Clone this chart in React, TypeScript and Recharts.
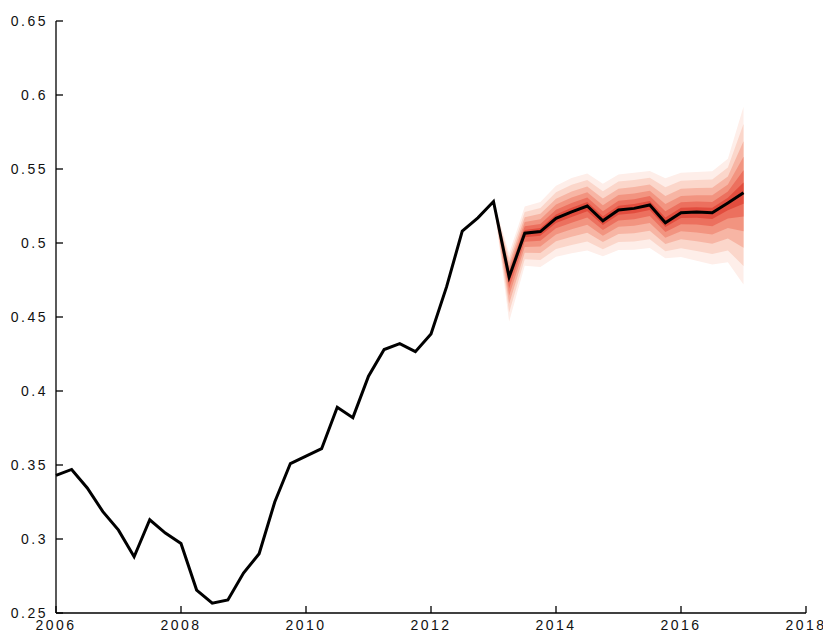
import { ComposedChart, Line, Area, XAxis, YAxis } from 'recharts';

// Quarterly observations, first quarter of 2006 through first quarter of 2013
const historyStart = 2006;
const historyValues = [
  0.343, 0.347, 0.3345, 0.3185, 0.306, 0.288, 0.313, 0.304,
  0.297, 0.2655, 0.2566, 0.2588, 0.277, 0.29, 0.325, 0.351,
  0.356, 0.361, 0.389, 0.382, 0.41, 0.428, 0.432, 0.4266,
  0.4385, 0.4705, 0.508, 0.517, 0.528,
];

// Projected median, 2013 Q2 through 2017 Q1
const forecastMedian = [
  0.477, 0.5066, 0.5077, 0.5167, 0.521, 0.525, 0.515, 0.5223,
  0.5234, 0.5257, 0.5137, 0.5205, 0.521, 0.5205, 0.527, 0.534,
];

// Outer fan offsets above / below the median, from the last observation on
const spreadUp = [
  0, 0.016, 0.018, 0.02, 0.022, 0.023, 0.022, 0.025, 0.024,
  0.024, 0.023, 0.03, 0.027, 0.027, 0.028, 0.03, 0.058,
];
const spreadDown = [
  0, 0.03, 0.022, 0.024, 0.026, 0.028, 0.03, 0.024, 0.027,
  0.028, 0.029, 0.024, 0.03, 0.033, 0.035, 0.04, 0.062,
];

// Fan bands, outermost first
const bandShares = [1, 0.8, 0.6, 0.42, 0.26, 0.12];
const bandColors = ['#feeee9', '#fbd6ca', '#f7b5a4', '#f29480', '#ec705e', '#e24d3e'];

const xTicks = [2006, 2008, 2010, 2012, 2014, 2016, 2018];
const yTicks = [0.25, 0.3, 0.35, 0.4, 0.45, 0.5, 0.55, 0.6, 0.65];

type Row = { t: number; value: number; [key: string]: number | number[] };

const rows: Row[] = historyValues.map((v, i) => ({ t: historyStart + i / 4, value: v }));
const lastIdx = rows.length - 1;
forecastMedian.forEach((m, i) => {
  rows.push({ t: rows[lastIdx].t + (i + 1) / 4, value: m });
});
const fanMedian = [historyValues[historyValues.length - 1], ...forecastMedian];
fanMedian.forEach((m, j) => {
  const row = rows[lastIdx + j];
  bandShares.forEach((s, k) => {
    row[`band${k}`] = [m - s * spreadDown[j], m + s * spreadUp[j]];
  });
});

const tickFont = {
  fontFamily: '"Liberation Sans", Arial, sans-serif',
  fontSize: 14,
  fill: '#111',
  letterSpacing: 2.5,
};

export default function App() {
  return (
    <div style={{ width: 823, height: 632, background: '#fff' }}>
      <ComposedChart
        width={823}
        height={632}
        data={rows}
        margin={{ top: 13, right: 25, bottom: 0, left: 0 }}
      >
        <XAxis
          dataKey="t"
          type="number"
          domain={[2006, 2018]}
          ticks={xTicks}
          interval={0}
          height={27}
          tickSize={-7}
          tickMargin={14}
          tick={tickFont}
          stroke="#000"
          axisLine={{ stroke: '#000', strokeWidth: 1.3 }}
          tickLine={{ stroke: '#000', strokeWidth: 1.3 }}
        />
        <YAxis
          type="number"
          domain={[0.25, 0.65]}
          ticks={yTicks}
          interval={0}
          width={48}
          tickSize={-7}
          tickMargin={15}
          tick={tickFont}
          tickFormatter={(v: number) => String(v)}
          stroke="#000"
          axisLine={{ stroke: '#000', strokeWidth: 1.3 }}
          tickLine={{ stroke: '#000', strokeWidth: 1.3 }}
        />
        {bandColors.map((c, k) => (
          <Area
            key={k}
            dataKey={`band${k}`}
            type="linear"
            stroke="none"
            fill={c}
            fillOpacity={1}
            isAnimationActive={false}
          />
        ))}
        <Line
          dataKey="value"
          type="linear"
          stroke="#000"
          strokeWidth={3}
          dot={false}
          isAnimationActive={false}
        />
      </ComposedChart>
    </div>
  );
}
